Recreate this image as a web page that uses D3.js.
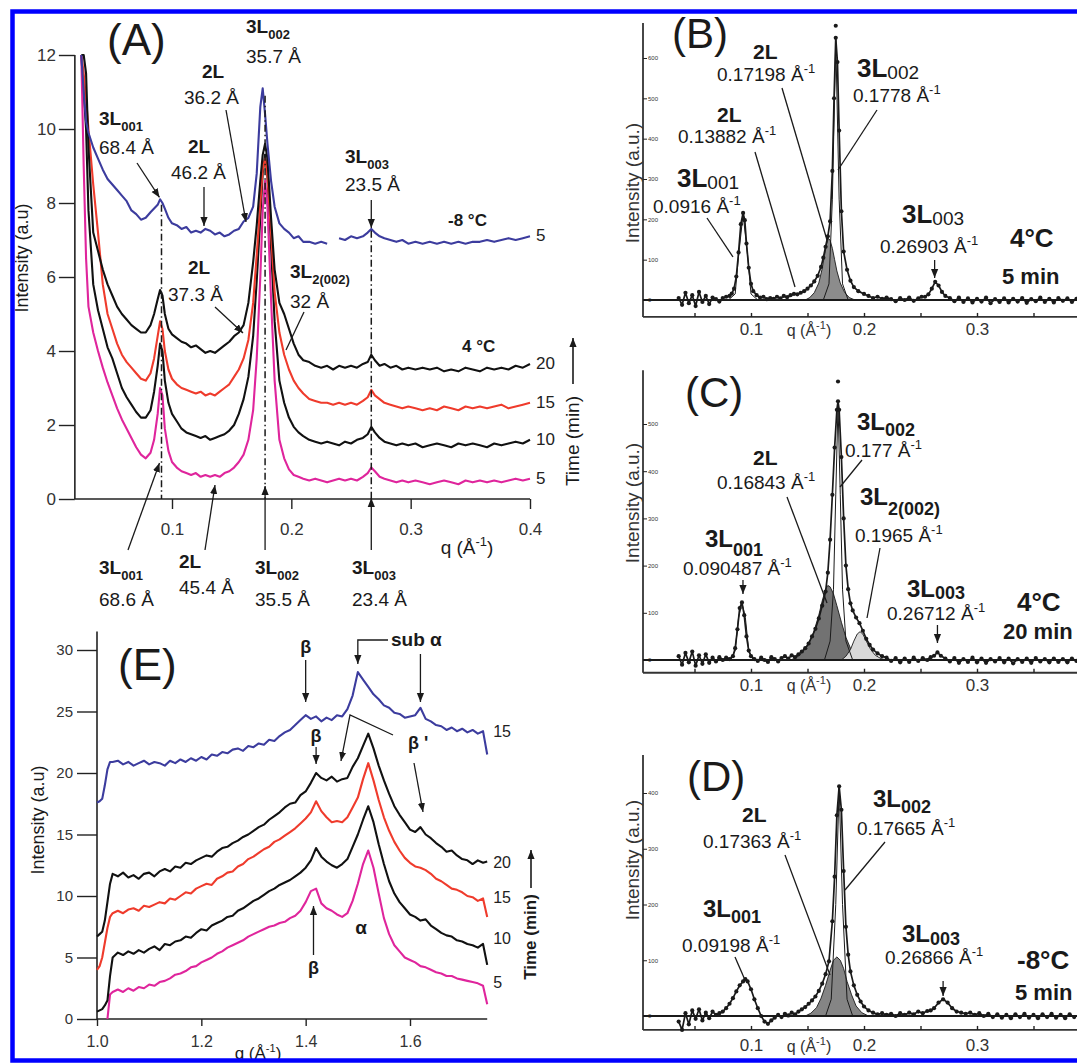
<!DOCTYPE html>
<html><head><meta charset="utf-8">
<script src="https://cdn.jsdelivr.net/npm/d3@7"></script>
<style>body{margin:0;background:#fff}svg{display:block}</style>
</head><body>
<svg id="c" width="1077" height="1064"></svg>
<script>
// ---------------- DATA ----------------
// Panel A: SAXS, q grid and intensity traces
const qA = [0.024,0.026,0.028,0.03,0.034,0.038,0.042,0.046,0.05,0.054,
 0.058,0.062,0.066,0.07,0.074,0.078,0.082,0.085,0.088,0.09,
 0.092,0.094,0.097,0.1,0.104,0.108,0.112,0.116,0.12,0.124,
 0.128,0.132,0.136,0.14,0.144,0.148,0.152,0.156,0.16,0.164,
 0.168,0.171,0.174,0.176,0.178,0.18,0.183,0.186,0.19,0.194,
 0.198,0.202,0.206,0.21,0.215,0.22,0.225,0.23,0.235,0.24,
 0.245,0.25,0.255,0.26,0.264,0.267,0.27,0.274,0.278,0.283,
 0.288,0.293,0.298,0.304,0.31,0.316,0.322,0.328,0.334,0.34,
 0.346,0.352,0.358,0.364,0.37,0.376,0.382,0.388,0.394,0.4];
const aMinus8_5 = [12,11.0,10.2,9.9,9.5,9.2,8.9,8.65,8.5,8.35,
 8.2,8.05,7.8,7.7,7.55,7.6,7.75,7.85,7.95,8.1,
 8.0,7.85,7.6,7.45,7.4,7.3,7.35,7.2,7.25,7.2,
 7.3,7.25,7.15,7.2,7.1,7.15,7.25,7.3,7.5,7.6,
 7.9,8.8,10.6,11.1,10.4,9.6,8.6,7.9,7.45,7.3,
 7.2,7.05,7.1,6.95,6.95,6.9,6.95,6.9,null,7.05,
 7.0,7.1,7.05,7.1,7.2,7.3,7.2,7.1,7.05,7.0,
 6.95,7.0,6.9,6.95,6.9,6.95,6.9,6.95,6.9,6.95,
 6.9,6.95,6.95,7.0,6.95,7.0,7.05,7.0,7.05,7.1];
const a4_20 = [12,12,11.5,9.5,7.2,6.7,6.2,5.8,5.5,5.2,
 5.0,4.85,4.7,4.6,4.5,4.5,4.7,5.0,5.4,5.65,
 5.5,5.0,4.6,4.45,4.35,4.25,4.2,4.1,4.15,4.05,
 3.95,4.0,3.95,4.05,4.15,4.25,4.4,4.5,4.7,5.3,
 6.4,7.4,8.6,9.3,9.6,9.2,7.6,6.2,5.3,5.0,
 4.6,4.2,3.9,3.75,3.7,3.6,3.55,3.6,3.5,3.6,
 3.55,3.6,3.55,3.65,3.7,3.9,3.75,3.6,3.65,3.55,
 3.6,3.5,3.55,3.5,3.55,3.5,3.55,3.45,3.5,3.45,
 3.55,3.5,3.45,3.55,3.5,3.55,3.5,3.6,3.55,3.65];
const a4_15 = [12,11.5,10.8,10.0,8.5,7.2,5.8,5.0,4.6,4.2,
 3.9,3.7,3.55,3.4,3.25,3.2,3.4,3.8,4.4,4.8,
 4.6,4.0,3.5,3.25,3.1,3.0,2.95,2.9,2.85,2.9,
 2.8,2.85,2.8,2.9,3.0,3.1,3.3,3.5,3.8,4.3,
 5.3,6.6,8.0,8.9,9.2,8.7,7.2,5.6,4.5,3.9,
 3.5,3.2,3.0,2.85,2.7,2.65,2.6,2.6,2.55,2.6,
 2.55,2.6,2.55,2.65,2.75,2.95,2.8,2.7,2.6,2.55,
 2.5,2.45,2.5,2.45,2.4,2.45,2.4,2.5,2.45,2.4,
 2.5,2.45,2.5,2.45,2.5,2.55,2.45,2.5,2.55,2.6];
const a4_10 = [12,11,10,7.8,5.8,5.1,4.6,4.1,3.8,3.4,
 3.0,2.75,2.55,2.35,2.2,2.2,2.4,2.9,3.6,4.2,
 4.0,3.2,2.6,2.3,2.1,1.9,1.8,1.75,1.7,1.65,
 1.7,1.6,1.65,1.7,1.75,1.85,2.0,2.3,2.7,3.3,
 4.4,5.9,7.6,8.8,9.3,8.7,6.8,4.8,3.2,2.6,
 2.2,1.95,1.8,1.7,1.6,1.55,1.5,1.55,1.5,1.45,
 1.55,1.5,1.6,1.65,1.75,1.95,1.8,1.65,1.55,1.5,
 1.45,1.5,1.45,1.5,1.4,1.45,1.5,1.45,1.4,1.5,
 1.45,1.5,1.45,1.4,1.5,1.45,1.5,1.55,1.5,1.6];
const a4_5 = [12,9,6.5,5.2,4.5,4.0,3.55,3.15,2.8,2.45,
 2.15,1.9,1.65,1.4,1.2,1.1,1.25,1.6,2.3,3.0,
 2.8,1.9,1.3,1.0,0.85,0.75,0.7,0.65,0.7,0.6,
 0.65,0.6,0.65,0.6,0.7,0.75,0.85,1.0,1.2,1.6,
 2.4,3.8,6.0,7.8,8.6,7.9,5.4,3.2,1.6,1.1,
 0.8,0.65,0.6,0.55,0.5,0.55,0.5,0.45,0.5,0.55,
 0.5,0.55,0.5,0.6,0.7,0.85,0.75,0.6,0.55,0.5,
 0.45,0.5,0.45,0.5,0.45,0.4,0.45,0.5,0.45,0.4,
 0.5,0.45,0.5,0.45,0.5,0.45,0.5,0.55,0.5,0.55];
const aXTicks = [0.1,0.2,0.3,0.4];
const aYTicks = [0,2,4,6,8,10,12];
const aRightLabels = ["5","20","15","10","5"];
const aPeakQ = [0.0912,0.178,0.267];

// Panels B, C, D: [q, intensity] data points and fitted components
const bData = [[0.036,5],[0.039,-12],[0.042,18],[0.045,-8],[0.048,12],[0.051,-15],[0.054,20],[0.057,-5],[0.06,10],[0.063,-10],[0.066,6],[0.069,2],[0.072,-4],[0.075,5],[0.078,8],[0.081,10],[0.083,16],[0.085,28],[0.087,58],[0.089,118],[0.091,188],[0.093,216],[0.0945,198],[0.096,140],[0.098,80],[0.1,40],[0.102,22],[0.105,12],[0.108,6],[0.111,8],[0.114,2],[0.117,5],[0.12,3],[0.123,8],[0.126,4],[0.129,10],[0.132,7],[0.135,12],[0.138,15],[0.141,14],[0.144,18],[0.147,22],[0.15,28],[0.153,36],[0.156,46],[0.159,60],[0.162,82],[0.164,105],[0.166,132],[0.168,158],[0.17,195],[0.172,320],[0.1735,500],[0.175,650],[0.1765,590],[0.178,420],[0.18,220],[0.182,120],[0.185,75],[0.188,48],[0.191,32],[0.195,22],[0.2,15],[0.204,10],[0.208,5],[0.212,8],[0.216,3],[0.22,6],[0.224,2],[0.228,-3],[0.232,5],[0.236,0],[0.24,6],[0.244,-2],[0.248,4],[0.251,8],[0.254,8],[0.257,14],[0.26,28],[0.263,45],[0.266,36],[0.269,20],[0.272,10],[0.276,5],[0.28,-3],[0.284,6],[0.288,-5],[0.292,4],[0.296,-6],[0.3,3],[0.304,-4],[0.308,6],[0.312,-8],[0.316,2],[0.32,-5],[0.324,4],[0.328,-6],[0.332,3],[0.336,-4],[0.34,5],[0.344,-7],[0.348,2],[0.352,-3],[0.356,6],[0.36,-5],[0.364,3],[0.368,-6],[0.372,5],[0.376,-2],[0.38,4],[0.384,-5],[0.388,3]];
const bOutlier = [[0.175,680]];
const bFit2L = [[0.148,0],[0.152,6],[0.156,18],[0.16,42],[0.163,78],[0.165,110],[0.167,140],[0.1685,153],[0.17,148],[0.172,128],[0.174,100],[0.176,72],[0.179,42],[0.183,18],[0.187,6],[0.192,0]];
const bFit3L002 = [[0.164,0],[0.169,40],[0.172,250],[0.175,645],[0.178,250],[0.181,40],[0.186,0]];
const bFit3L001 = [[0.08,0],[0.086,15],[0.089,110],[0.093,213],[0.097,110],[0.1,15],[0.106,0]];
const bYTicks = [0,100,200,300,400,500,600];

const cData = [[0.036,8],[0.039,-10],[0.042,15],[0.045,-5],[0.048,18],[0.051,-12],[0.054,10],[0.057,-8],[0.06,12],[0.063,-6],[0.066,5],[0.069,-3],[0.072,6],[0.075,0],[0.078,5],[0.081,2],[0.084,8],[0.086,25],[0.088,65],[0.09,110],[0.092,122],[0.094,95],[0.096,50],[0.098,20],[0.1,8],[0.103,2],[0.106,-2],[0.109,5],[0.112,0],[0.115,-4],[0.118,6],[0.121,2],[0.124,-3],[0.127,4],[0.13,8],[0.133,3],[0.136,10],[0.139,6],[0.142,12],[0.145,18],[0.148,25],[0.151,35],[0.154,50],[0.157,66],[0.16,88],[0.163,115],[0.166,145],[0.168,185],[0.17,255],[0.172,350],[0.174,450],[0.176,530],[0.177,548],[0.178,530],[0.18,430],[0.182,300],[0.184,200],[0.186,150],[0.188,120],[0.19,105],[0.193,90],[0.196,78],[0.199,62],[0.202,45],[0.205,32],[0.208,22],[0.212,14],[0.216,8],[0.22,5],[0.224,-2],[0.228,4],[0.232,-5],[0.236,3],[0.24,-4],[0.244,5],[0.248,-2],[0.252,4],[0.256,0],[0.259,6],[0.262,9],[0.265,16],[0.268,9],[0.272,3],[0.276,-3],[0.28,4],[0.284,-6],[0.288,2],[0.292,-4],[0.296,5],[0.3,-5],[0.304,3],[0.308,-6],[0.312,2],[0.316,-3],[0.32,4],[0.324,-5],[0.328,3],[0.332,-7],[0.336,2],[0.34,-4],[0.344,3],[0.348,-6],[0.352,4],[0.356,-3],[0.36,2],[0.364,-5],[0.368,3],[0.372,-4],[0.376,2],[0.38,-5],[0.384,3],[0.388,-2]];
const cOutlier = [[0.177,590]];
const cFit2L = [[0.135,0],[0.14,5],[0.145,15],[0.15,30],[0.155,55],[0.16,95],[0.163,125],[0.166,150],[0.168,158],[0.17,155],[0.173,140],[0.176,115],[0.18,80],[0.184,48],[0.188,25],[0.192,10],[0.196,3],[0.2,0]];
const cFit3L2 = [[0.18,0],[0.184,8],[0.188,22],[0.191,40],[0.194,55],[0.1965,60],[0.199,55],[0.202,40],[0.206,22],[0.21,10],[0.215,3],[0.22,0]];
const cFit3L002 = [[0.165,0],[0.17,40],[0.173,150],[0.175,350],[0.177,540],[0.179,350],[0.181,150],[0.184,40],[0.19,0]];
const cFit3L001 = [[0.082,0],[0.086,20],[0.089,90],[0.092,120],[0.095,90],[0.098,20],[0.102,0]];
const cYTicks = [0,100,200,300,400,500];

const dData = [[0.036,-10],[0.039,-25],[0.042,5],[0.045,-15],[0.048,10],[0.051,-5],[0.054,12],[0.057,-8],[0.06,6],[0.063,-4],[0.066,8],[0.069,2],[0.072,5],[0.075,8],[0.078,14],[0.081,22],[0.084,32],[0.087,44],[0.09,55],[0.093,62],[0.095,66],[0.097,62],[0.1,48],[0.103,30],[0.106,14],[0.109,0],[0.112,-10],[0.115,-14],[0.118,-8],[0.121,-3],[0.124,2],[0.127,-2],[0.13,4],[0.133,1],[0.136,6],[0.139,3],[0.142,8],[0.145,12],[0.148,16],[0.151,22],[0.154,28],[0.157,35],[0.16,45],[0.163,58],[0.166,75],[0.169,98],[0.172,170],[0.174,250],[0.176,360],[0.178,412],[0.18,370],[0.182,260],[0.184,160],[0.186,110],[0.188,80],[0.191,55],[0.194,38],[0.197,26],[0.2,17],[0.204,10],[0.208,6],[0.212,3],[0.216,5],[0.22,2],[0.224,4],[0.228,0],[0.232,5],[0.236,2],[0.24,6],[0.244,3],[0.248,8],[0.252,5],[0.256,9],[0.259,10],[0.262,14],[0.266,24],[0.27,30],[0.274,24],[0.278,14],[0.282,8],[0.286,6],[0.29,4],[0.294,6],[0.298,2],[0.302,5],[0.306,0],[0.31,4],[0.314,-2],[0.318,3],[0.322,-3],[0.326,2],[0.33,-4],[0.334,3],[0.338,-2],[0.342,4],[0.346,-3],[0.35,2],[0.354,-4],[0.358,3],[0.362,-2],[0.366,4],[0.37,-3],[0.374,2],[0.378,-4],[0.382,3],[0.386,-2]];
const dFit2L = [[0.148,0],[0.153,5],[0.158,15],[0.162,32],[0.166,55],[0.17,82],[0.173,100],[0.176,106],[0.179,100],[0.182,85],[0.185,62],[0.189,38],[0.193,18],[0.198,6],[0.204,0]];
const dFit3L002 = [[0.166,0],[0.171,30],[0.175,200],[0.178,410],[0.181,200],[0.185,30],[0.19,0]];
const dYTicks = [0,100,200,300,400];
const qXTicks = [0.05,0.1,0.15,0.2,0.25,0.3,0.35];
const qXLabels = [0.1,0.2,0.3];

// Panel E: WAXS
const qE = [1.0,1.005,1.01,1.015,1.02,1.025,
 1.03,1.04,1.05,1.06,1.07,1.08,1.09,
 1.10,1.11,1.12,1.13,1.14,1.15,1.16,1.17,1.18,1.19,
 1.20,1.21,1.22,1.23,1.24,1.25,1.26,1.27,1.28,1.29,
 1.30,1.31,1.32,1.33,1.34,1.35,1.36,1.37,1.38,1.39,
 1.40,1.41,1.42,1.43,1.44,1.45,1.46,1.47,1.48,1.49,
 1.50,1.51,1.52,1.53,1.54,1.55,1.56,1.57,1.58,1.59,
 1.60,1.61,1.62,1.63,1.64,1.65,1.66,1.67,1.68,1.69,
 1.70,1.71,1.72,1.73,1.74,1.748];
const eMinus8_15 = [17.6,17.7,17.9,19.0,20.3,20.9, 20.9,21.0,20.7,20.9,20.6,20.8,21.0,
 20.7,20.9,20.8,20.6,21.0,20.8,21.1,20.9,21.2,21.0,
 21.3,21.1,21.5,21.4,21.7,21.6,21.9,22.0,21.8,22.2,
 22.1,22.4,22.3,22.7,22.6,23.0,23.3,23.5,23.9,24.3,
 24.7,24.4,24.6,24.2,24.5,24.3,24.7,24.6,25.2,26.3,
 28.2,27.6,27.0,26.4,26.0,25.5,25.3,24.9,24.8,24.5,
 24.6,24.7,25.3,24.4,24.2,23.9,23.8,23.5,23.7,23.4,
 23.6,23.3,23.5,23.2,23.4,21.5];
const e4_20 = [6.7,6.9,7.1,8.0,9.5,11.0, 11.8,11.6,11.9,11.5,11.7,11.4,11.8,
 11.9,11.6,12.0,12.2,12.0,12.4,12.3,12.7,12.6,12.9,
 13.1,13.3,13.2,13.6,13.9,14.0,14.3,14.5,14.8,15.0,
 15.3,15.6,15.8,16.2,16.5,16.8,17.2,17.5,17.6,18.2,
 18.5,19.2,20.0,19.6,19.4,19.7,19.3,19.5,19.6,20.5,
 21.2,22.2,23.2,22.0,20.6,19.4,18.3,17.3,16.6,16.0,
 15.4,15.2,15.6,15.0,14.7,14.3,14.0,13.6,13.7,13.3,
 13.0,12.9,12.6,12.9,12.7,12.8];
const e4_15 = [4.0,4.3,5.0,6.2,7.4,8.3, 8.6,8.8,8.6,8.9,9.0,8.8,9.2,
 9.1,9.3,9.5,9.4,9.8,9.7,10.0,10.3,10.2,10.6,
 10.8,11.0,10.9,11.4,11.6,11.9,12.0,12.4,12.6,13.0,
 13.2,13.5,13.8,14.0,14.4,14.6,14.9,15.2,15.5,15.9,
 16.3,16.8,17.7,16.9,16.4,16.0,16.1,16.0,16.4,17.2,
 18.0,19.5,20.8,19.4,17.8,16.4,15.3,14.4,13.7,13.1,
 12.7,12.4,12.3,12.1,11.8,11.4,11.2,10.9,10.6,10.5,
 10.3,10.0,9.9,9.6,9.8,8.3];
const e4_10 = [0.6,0.7,0.8,1.1,1.5,3.5, 5.0,5.4,5.2,5.5,5.3,5.6,5.4,
 5.7,5.9,5.6,6.1,6.0,6.3,6.4,6.7,6.6,7.0,
 7.3,7.2,7.6,7.8,8.0,8.3,8.4,8.8,9.0,9.3,
 9.6,9.8,10.1,10.4,10.6,10.9,11.1,11.3,11.6,11.9,
 12.3,12.9,13.9,13.2,12.8,12.5,12.3,12.6,13.0,14.0,
 15.0,16.2,17.3,16.0,14.2,12.6,11.2,10.2,9.5,9.0,
 8.5,8.3,8.0,8.1,7.6,7.3,7.0,6.8,6.7,6.4,
 6.3,6.1,6.0,5.8,6.1,4.4];
const e4_5 = [null,null,null,null,0.0,2.0, 2.2,2.4,2.2,2.5,2.3,2.6,2.5,
 2.8,2.7,3.0,3.1,3.3,3.6,3.7,3.9,4.2,4.3,
 4.6,4.8,5.0,5.3,5.5,5.8,6.0,6.2,6.4,6.7,
 6.9,7.1,7.3,7.5,7.6,7.8,7.9,8.2,8.4,8.8,
 9.5,10.4,10.6,9.4,9.0,8.8,8.5,8.3,8.6,9.6,
 11.0,12.6,13.7,12.3,10.2,8.2,6.9,6.0,5.5,5.0,
 4.8,4.6,4.3,4.2,4.0,3.8,3.7,3.5,3.5,3.3,
 3.2,3.1,3.0,2.9,2.7,1.2];
const eXTicks = [1.0,1.2,1.4,1.6];
const eYTicks = [0,5,10,15,20,25,30];
const eRightLabels = ["15","20","15","10","5"];

// ---------------- DRAWING ----------------
const FONT = "'Liberation Sans', Arial, Helvetica, sans-serif";
const INK = "#1a1a1a";
const COL = {blue:"#3c3c9e", black:"#111111", red:"#ef3b2c", mag:"#df259c"};
const svg = d3.select('#c');
svg.append('rect').attr('width',1077).attr('height',1064).attr('fill','#fff');
svg.append('defs').append('marker').attr('id','arr').attr('viewBox','0 0 10 10')
  .attr('refX',10).attr('refY',5).attr('markerWidth',9).attr('markerHeight',9)
  .attr('markerUnits','userSpaceOnUse').attr('orient','auto')
  .append('path').attr('d','M0,1 L10,5 L0,9 z').attr('fill',INK);

const N=t=>({t}), B=t=>({t,b:true}), SUB=(t,b,s,dy)=>({t,sub:true,b,s,dy}), SUP=(t,s)=>({t,sup:true,s});
function rich(g,x,y,parts,size,opt={}){
  const t=g.append('text').attr('x',x).attr('y',y).attr('font-family',FONT)
    .attr('font-size',size).attr('fill',opt.fill||INK);
  if(opt.anchor) t.attr('text-anchor',opt.anchor);
  if(opt.rotate) t.attr('transform',`rotate(${opt.rotate},${x},${y})`);
  let cur=0;
  parts.forEach(p=>{
    const ts=t.append('tspan').text(p.t);
    const target=p.sub?(p.dy!=null?p.dy:size*0.32):(p.sup?-size*0.42:0);
    if(target!==cur) ts.attr('dy',target-cur);
    cur=target;
    if(p.b) ts.attr('font-weight','bold');
    ts.attr('font-size',p.s||((p.sub||p.sup)?Math.round(size*0.66):size));
  });
  return t;
}
function seg(g,x1,y1,x2,y2,arrow,w){
  const l=g.append('line').attr('x1',x1).attr('y1',y1).attr('x2',x2).attr('y2',y2)
    .attr('stroke',INK).attr('stroke-width',w||1.3);
  if(arrow) l.attr('marker-end','url(#arr)');
  return l;
}
function poly(g,pts,arrow){
  const p=g.append('polyline').attr('points',pts.map(d=>d.join(',')).join(' '))
   .attr('fill','none').attr('stroke',INK).attr('stroke-width',1.3);
  if(arrow) p.attr('marker-end','url(#arr)');
}
function styleAxis(sel,fs){
  sel.select('.domain').remove();
  sel.selectAll('text').attr('font-family',FONT).attr('font-size',fs).attr('fill','#333');
  sel.selectAll('line').attr('stroke','#222').attr('stroke-width',1.4);
}

// ===== Panel A =====
const xA=d3.scaleLinear().domain([0.1,0.4]).range([172,530]);
const yA=d3.scaleLinear().domain([0,12]).range([499,55]);
const gA=svg.append('g');
const qA0=0.0186;
gA.append('line').attr('x1',xA(qA0)).attr('x2',xA(0.4)).attr('y1',yA(0)).attr('y2',yA(0)).attr('stroke','#222').attr('stroke-width',1.6);
gA.append('line').attr('x1',xA(qA0)).attr('x2',xA(qA0)).attr('y1',yA(0)).attr('y2',yA(12)).attr('stroke','#222').attr('stroke-width',1.6);
gA.append('g').attr('transform',`translate(0,${yA(0)})`)
  .call(d3.axisBottom(xA).tickValues(aXTicks).tickFormat(d3.format('.1f')).tickSize(10).tickPadding(14))
  .call(s=>styleAxis(s,17));
gA.append('g').attr('transform',`translate(${xA(qA0)},0)`)
  .call(d3.axisLeft(yA).tickValues(aYTicks).tickSize(16).tickPadding(3))
  .call(s=>styleAxis(s,17));
const lineA=d3.line().defined(d=>d[1]!=null).x(d=>xA(d[0])).y(d=>yA(d[1]));
const seriesA=[[a4_10,COL.black],[a4_15,COL.red],[a4_5,COL.mag],[a4_20,COL.black],[aMinus8_5,COL.blue]];
seriesA.forEach(([v,c])=>{
  gA.append('path').datum(qA.map((q,i)=>[q,v[i]])).attr('d',lineA)
    .attr('fill','none').attr('stroke',c).attr('stroke-width',2.1).attr('stroke-linejoin','round');
});
const guideTop=[7.95,10.9,7.25];
aPeakQ.forEach((q,i)=>{
  gA.append('line').attr('x1',xA(q)).attr('x2',xA(q)).attr('y1',yA(guideTop[i])).attr('y2',yA(0))
   .attr('stroke',INK).attr('stroke-width',1.5).attr('stroke-dasharray','7,3,1.5,3');
});
const aLabVals=[aMinus8_5[89],a4_20[89],a4_15[89],a4_10[89],a4_5[89]];
aRightLabels.forEach((t,i)=>{
  gA.append('text').attr('x',xA(0.4)+6).attr('y',yA(aLabVals[i])+5).text(t)
   .attr('font-family',FONT).attr('font-size',17).attr('fill','#222');
});
rich(gA,448,226,[B("-8 °C")],17);
rich(gA,462,352,[B("4 °C")],17);
rich(gA,107,55,[N("(A)")],44);
rich(gA,467,554,[N("q (Å"),SUP("-1"),N(")")],19,{anchor:'middle'});
rich(gA,28,258,[N("Intensity (a.u)")],18,{anchor:'middle',rotate:-90});
rich(gA,579,441,[N("Time (min)")],19,{anchor:'middle',rotate:-90});
seg(gA,573,384,573,338,true,1.6);
const AS=19;
rich(gA,99,125,[B("3L"),SUB("001",true)],AS); rich(gA,99,154,[N("68.4 Å")],AS);
seg(gA,137,163,xA(0.0912)-2,yA(8.15),true);
rich(gA,188,153,[B("2L")],AS); rich(gA,171,179,[N("46.2 Å")],AS);
seg(gA,204,187,204,226,true);
rich(gA,202,78,[B("2L")],AS); rich(gA,184,104,[N("36.2 Å")],AS);
seg(gA,226,110,246,222,true);
rich(gA,246,33,[B("3L"),SUB("002",true)],AS); rich(gA,246,63,[N("35.7 Å")],AS);
rich(gA,345,163,[B("3L"),SUB("003",true)],AS); rich(gA,345,191,[N("23.5 Å")],AS);
seg(gA,xA(0.267),200,xA(0.267),228,true);
rich(gA,188,274,[B("2L")],AS); rich(gA,168,301,[N("37.3 Å")],AS);
seg(gA,215,307,243,333,true);
rich(gA,290,278,[B("3L"),SUB("2(002)",true)],AS); rich(gA,290,308,[N("32 Å")],AS);
seg(gA,304,312,286,350,false);
rich(gA,99,574,[B("3L"),SUB("001",true)],AS); rich(gA,99,606,[N("68.6 Å")],AS);
seg(gA,128,550,xA(0.0912)-2,463,true);
rich(gA,179,568,[B("2L")],AS); rich(gA,179,594,[N("45.4 Å")],AS);
seg(gA,205,550,215,485,true);
rich(gA,255,574,[B("3L"),SUB("002",true)],AS); rich(gA,255,606,[N("35.5 Å")],AS);
seg(gA,xA(0.178),550,xA(0.178),486,true);
rich(gA,352,574,[B("3L"),SUB("003",true)],AS); rich(gA,352,606,[N("23.4 Å")],AS);
seg(gA,xA(0.267),550,xA(0.267),498,true);

// ===== Panels B, C, D =====
const xQ=d3.scaleLinear().domain([0.1,0.3]).range([751,977]);
const qLeft=xQ.invert(643), qRight=xQ.invert(1077);
function fitPanel(cfg){
  const g=svg.append('g');
  const y=cfg.y;
  g.append('line').attr('x1',xQ(qLeft)).attr('x2',xQ(qRight)).attr('y1',y(cfg.yMin)).attr('y2',y(cfg.yMin)).attr('stroke','#333').attr('stroke-width',1.8);
  g.append('line').attr('x1',xQ(qLeft)).attr('x2',xQ(qLeft)).attr('y1',y(cfg.yMin)).attr('y2',y(cfg.yMax)).attr('stroke','#333').attr('stroke-width',1.8);
  g.append('g').attr('transform',`translate(0,${y(cfg.yMin)})`)
   .call(d3.axisBottom(xQ).tickValues(qXTicks).tickSize(-4).tickPadding(cfg.pad)
     .tickFormat(d=>qXLabels.some(v=>Math.abs(v-d)<1e-9)?d.toFixed(1):''))
   .call(s=>styleAxis(s,17));
  g.append('g').attr('transform',`translate(${xQ(qLeft)},0)`)
   .call(d3.axisRight(y).tickValues(cfg.ticks).tickSize(4).tickPadding(1))
   .call(s=>{styleAxis(s,6); s.selectAll('line').attr('stroke-width',1);});
  rich(g,809,cfg.qy,[N("q (Å"),SUP("-1"),N(")")],16,{anchor:'middle',fill:'#333'});
  rich(g,639,cfg.iy,[N("Intensity (a.u.)")],19,{anchor:'middle',rotate:-90,fill:'#333'});
  const ln=d3.line().x(d=>xQ(d[0])).y(d=>y(d[1]));
  const ar=d3.area().x(d=>xQ(d[0])).y0(y(0)).y1(d=>y(d[1]));
  cfg.fills.forEach(([arr,col])=>{
    g.append('path').datum(arr).attr('d',ar).attr('fill',col).attr('stroke',INK).attr('stroke-width',0.9);
  });
  g.append('line').attr('x1',xQ(qLeft)).attr('x2',xQ(qRight)).attr('y1',y(0)).attr('y2',y(0)).attr('stroke',INK).attr('stroke-width',2);
  cfg.lines.forEach(arr=>{
    g.append('path').datum(arr).attr('d',ln).attr('fill','none').attr('stroke',INK).attr('stroke-width',1);
  });
  g.append('path').datum(cfg.data).attr('d',ln).attr('fill','none').attr('stroke',INK).attr('stroke-width',1.7).attr('stroke-linejoin','round');
  g.selectAll(null).data(cfg.data.concat(cfg.outliers||[])).enter().append('circle')
   .attr('cx',d=>xQ(d[0])).attr('cy',d=>y(d[1])).attr('r',2.1).attr('fill',INK);
  return g;
}
// B
const yB=d3.scaleLinear().domain([0,600]).range([300,58]);
const gB=fitPanel({y:yB,yMin:-42,yMax:687,ticks:bYTicks,pad:6,qy:336,iy:183,
  fills:[[bFit2L,'#8c8c8c']],lines:[bFit3L002,bFit3L001],data:bData,outliers:bOutlier});
rich(gB,672,48,[N("(B)")],42);
rich(gB,753,59,[B("2L")],21); rich(gB,717,81,[N("0.17198 Å"),SUP("-1")],19);
seg(gB,782,88,827,240,false);
rich(gB,857,77,[B("3L"),SUB("002",false,19,2)],26); rich(gB,853,102,[N("0.1778 Å"),SUP("-1")],19);
seg(gB,877,110,838,170,false);
rich(gB,717,122,[B("2L")],21); rich(gB,678,143,[N("0.13882 Å"),SUP("-1")],19);
seg(gB,755,152,795,287,false);
rich(gB,677,187,[B("3L"),SUB("001",false,19,2)],26); rich(gB,653,213,[N("0.0916 Å"),SUP("-1")],19);
seg(gB,707,218,733,257,false);
rich(gB,902,223,[B("3L"),SUB("003",false,19,2)],26); rich(gB,880,253,[N("0.26903 Å"),SUP("-1")],19);
seg(gB,xQ(0.2625),260,xQ(0.2625),278,true);
rich(gB,1010,247,[B("4°C")],26); rich(gB,1002,284,[B("5 min")],22);
// C
const yC=d3.scaleLinear().domain([0,500]).range([660,424]);
const gC=fitPanel({y:yC,yMin:-27,yMax:614,ticks:cYTicks,pad:6,qy:691,iy:503,
  fills:[[cFit2L,'#727272'],[cFit3L2,'#d9d9d9']],lines:[cFit3L002,cFit3L001],data:cData,outliers:cOutlier});
rich(gC,685,407,[N("(C)")],42);
rich(gC,857,430,[B("3L"),SUB("002",true,18,6)],24); rich(gC,845,457,[N("0.177 Å"),SUP("-1")],19);
seg(gC,862,460,840,487,false);
rich(gC,753,465,[B("2L")],21); rich(gC,717,489,[N("0.16843 Å"),SUP("-1")],19);
seg(gC,787,497,827,603,false);
rich(gC,860,505,[B("3L"),SUB("2(002)",true,18,10)],24); rich(gC,855,542,[N("0.1965 Å"),SUP("-1")],19);
seg(gC,880,548,867,618,false);
rich(gC,705,547,[B("3L"),SUB("001",true,18,9)],24); rich(gC,683,575,[N("0.090487 Å"),SUP("-1")],19);
seg(gC,xQ(0.0929),580,xQ(0.0929),594,true);
rich(gC,907,597,[B("3L"),SUB("003",true,18,2)],24); rich(gC,887,620,[N("0.26712 Å"),SUP("-1")],19);
seg(gC,xQ(0.265),625,xQ(0.265),643,true);
rich(gC,1017,611,[B("4°C")],26); rich(gC,1003,639,[B("20 min")],22);
// D
const yD=d3.scaleLinear().domain([0,400]).range([1016,793]);
const gD=fitPanel({y:yD,yMin:-25,yMax:468,ticks:dYTicks,pad:9,qy:1052,iy:860,
  fills:[[dFit2L,'#858585']],lines:[dFit3L002],data:dData,outliers:[]});
rich(gD,687,791,[N("(D)")],42);
rich(gD,873,807,[B("3L"),SUB("002",true,18,6)],24); rich(gD,857,835,[N("0.17665 Å"),SUP("-1")],19);
seg(gD,885,842,845,890,false);
rich(gD,742,822,[B("2L")],21); rich(gD,703,848,[N("0.17363 Å"),SUP("-1")],19);
seg(gD,785,855,830,975,false);
rich(gD,703,917,[B("3L"),SUB("001",true,18,6)],24); rich(gD,682,952,[N("0.09198 Å"),SUP("-1")],19);
seg(gD,735,957,745,980,false);
rich(gD,902,942,[B("3L"),SUB("003",true,18,3)],24); rich(gD,885,964,[N("0.26866 Å"),SUP("-1")],19);
seg(gD,xQ(0.27),981,xQ(0.27),996,true);
rich(gD,1017,969,[B("-8°C")],26); rich(gD,1015,1000,[B("5 min")],22);

// ===== Panel E =====
const xE=d3.scaleLinear().domain([1.0,1.6]).range([97,410]);
const yE=d3.scaleLinear().domain([0,30]).range([1019,650]);
const gE=svg.append('g');
gE.append('line').attr('x1',xE(1.0)).attr('x2',xE(1.748)).attr('y1',yE(0)).attr('y2',yE(0)).attr('stroke','#222').attr('stroke-width',1.6);
gE.append('line').attr('x1',xE(1.0)).attr('x2',xE(1.0)).attr('y1',yE(0)).attr('y2',yE(31.5)).attr('stroke','#222').attr('stroke-width',1.6);
gE.append('g').attr('transform',`translate(0,${yE(0)})`)
  .call(d3.axisBottom(xE).tickValues(eXTicks).tickFormat(d3.format('.1f')).tickSize(7).tickPadding(10))
  .call(s=>styleAxis(s,16));
gE.append('g').attr('transform',`translate(${xE(1.0)},0)`)
  .call(d3.axisLeft(yE).tickValues(eYTicks).tickSize(20).tickPadding(4))
  .call(s=>styleAxis(s,15));
const lineE=d3.line().defined(d=>d[1]!=null).x(d=>xE(d[0])).y(d=>yE(d[1]));
const seriesE=[[e4_5,COL.mag],[e4_10,COL.black],[e4_15,COL.red],[e4_20,COL.black],[eMinus8_15,COL.blue]];
seriesE.forEach(([v,c])=>{
  gE.append('path').datum(qE.map((q,i)=>[q,v[i]])).attr('d',lineE)
   .attr('fill','none').attr('stroke',c).attr('stroke-width',2.1).attr('stroke-linejoin','round');
});
const eLabY=[23.4,12.8,9.9,6.6,3.0];
eRightLabels.forEach((t,i)=>{
  gE.append('text').attr('x',xE(1.748)+6).attr('y',yE(eLabY[i])+6).text(t)
   .attr('font-family',FONT).attr('font-size',16).attr('fill','#222');
});
rich(gE,118,680,[N("(E)")],44);
rich(gE,44,820,[N("Intensity (a.u)")],18,{anchor:'middle',rotate:-90});
rich(gE,536,937,[B("Time (min)")],17,{anchor:'middle',rotate:-90});
seg(gE,531,888,531,850,true,1.6);
rich(gE,258,1059,[N("q (Å"),SUP("-1"),N(")")],17,{anchor:'middle'});
rich(gE,xE(1.40),653,[B("β")],18,{anchor:'middle'});
seg(gE,xE(1.40),660,xE(1.40),702,true);
rich(gE,391,646,[B("sub α")],19);
poly(gE,[[388,640],[xE(1.5),640],[xE(1.5),664]],true);
seg(gE,xE(1.62),654,xE(1.62),702,true);
rich(gE,xE(1.42),742,[B("β")],18,{anchor:'middle'});
seg(gE,xE(1.42),747,xE(1.42),764,true);
rich(gE,408,749,[B("β '")],18);
poly(gE,[[393,735],[350,715],[341,761]],true);
seg(gE,414,763,423,812,true);
rich(gE,361,934,[B("α")],19,{anchor:'middle'});
rich(gE,xE(1.415),974,[B("β")],18,{anchor:'middle'});
seg(gE,xE(1.415),955,xE(1.415),906,true);

// ===== outer blue frame =====
svg.append('rect').attr('x',12.5).attr('y',11.5).attr('width',1100).attr('height',1049)
  .attr('fill','none').attr('stroke','#0000ff').attr('stroke-width',4.5);
</script>
</body></html>
